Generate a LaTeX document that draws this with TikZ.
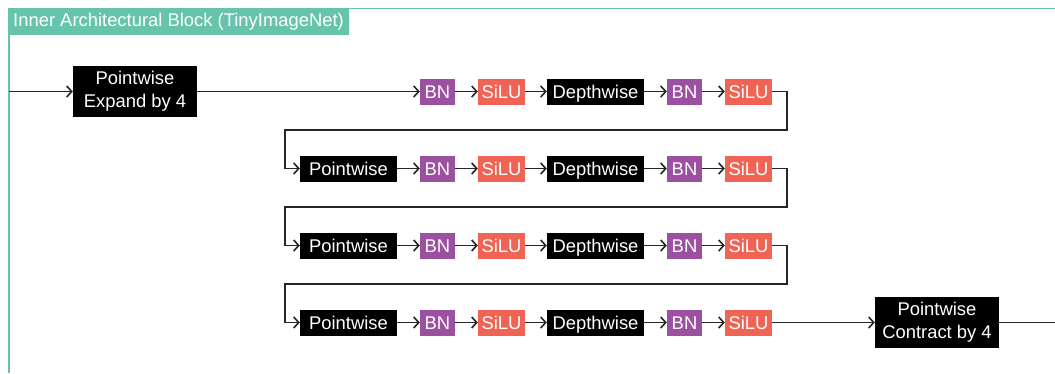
\documentclass[tikz,border=0pt]{standalone}
\usepackage{fontspec}
\setmainfont{Liberation Sans}
\usetikzlibrary{arrows.meta}
\definecolor{teal1}{RGB}{102,196,170}
\definecolor{bnc}{RGB}{156,80,160}
\definecolor{siluc}{RGB}{240,100,85}
\tikzset{
  blk/.style={rectangle, inner sep=0pt, text=white, font=\fontsize{18.4}{23}\selectfont, align=center, minimum height=26pt},
  one/.style={blk, text height=13pt, text depth=0pt},
  pw/.style={one, fill=black, minimum width=97pt},
  big/.style={blk, fill=black, minimum width=124pt, minimum height=51pt},
  bn/.style={one, fill=bnc, minimum width=35pt},
  silu/.style={one, fill=siluc, minimum width=47pt},
  conn/.style={line width=1.6pt, draw=black!85, -{Straight Barb[length=5pt,width=11pt]}},
  plain/.style={line width=1.6pt, draw=black!85},
}
\begin{document}
\begin{tikzpicture}[x=1pt,y=-1pt]
\useasboundingbox (0,0) rectangle (1055,373);
% frame
\draw[teal1, line width=1pt] (8,8.5) -- (1055,8.5);
\draw[teal1, line width=2pt] (9,8) -- (9,373);
\fill[teal1] (8,8) rectangle (349,35);
\node[anchor=west, text=white, inner sep=0pt, font=\fontsize{18.4}{23}\selectfont] (title) at (13,22) {Inner Architectural Block (TinyImageNet)};
% input
\coordinate (in) at (9,91.5);
\node[big] (exp) at (135,91.5) {Pointwise\\Expand by 4};
\draw[conn] (in) -- (exp.west);
% rows
\foreach \r/\y in {1/91.5,2/168.5,3/245.5,4/322.5}{
  \node[bn] (r\r b1) at (437.5,\y) {BN};
  \node[silu] (r\r s1) at (501.5,\y) {SiLU};
  \node[pw] (r\r d) at (595.5,\y) {Depthwise};
  \node[bn] (r\r b2) at (684.5,\y) {BN};
  \node[silu] (r\r s2) at (748.5,\y) {SiLU};
  \draw[conn] (r\r b1) -- (r\r s1);
  \draw[conn] (r\r s1) -- (r\r d);
  \draw[conn] (r\r d) -- (r\r b2);
  \draw[conn] (r\r b2) -- (r\r s2);
}
\foreach \r/\y in {2/168.5,3/245.5,4/322.5}{
  \node[pw] (r\r p) at (348.5,\y) {Pointwise};
  \draw[conn] (r\r p) -- (r\r b1);
}
\draw[conn] (exp.east) -- (r1b1.west);
\foreach \a/\b in {1/2,2/3,3/4}{
  \draw[conn] (r\a s2.east) -- ++(15,0) -- ++(0,38.5) -| ([xshift=-15pt]r\b p.west) -- (r\b p.west);
}
\node[big] (con) at (937,322.5) {Pointwise\\Contract by 4};
\draw[conn] (r4s2.east) -- (con.west);
\coordinate (out) at (1055,322.5);
\draw[plain] (con.east) -- (out);
\end{tikzpicture}
\end{document}
